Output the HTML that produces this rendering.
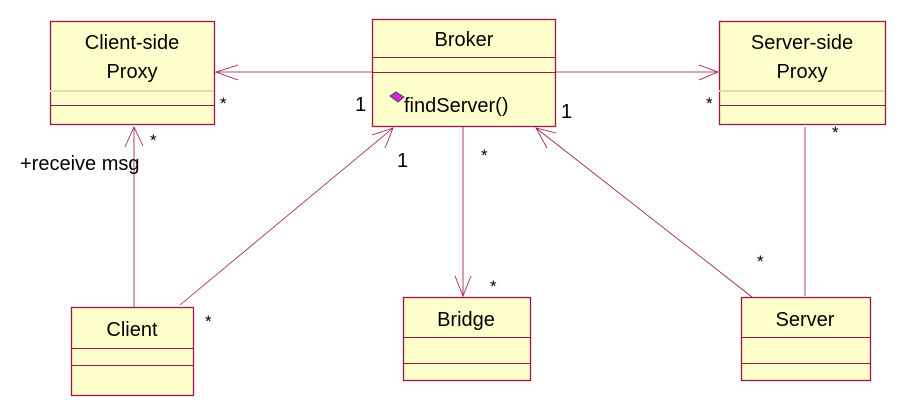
<!DOCTYPE html>
<html><head><meta charset="utf-8"><style>
html,body{margin:0;padding:0;background:#fff;}
svg{display:block;}
text{font-family:"Liberation Sans",sans-serif;fill:#000;}
</style></head><body>
<svg width="912" height="405" viewBox="0 0 912 405" xmlns="http://www.w3.org/2000/svg">
<g fill="#ffffcc" stroke="#99154a" stroke-width="1.3">
<rect x="50.5" y="21.5" width="164" height="103"/>
<rect x="372.5" y="19.5" width="183" height="107"/>
<rect x="719.5" y="21.5" width="166" height="103"/>
<rect x="71.5" y="307.5" width="122" height="88"/>
<rect x="403.5" y="297.5" width="127" height="83"/>
<rect x="741.5" y="297.5" width="129" height="83"/>
</g>
<g stroke="#99154a" stroke-width="1">
<line x1="50" y1="91" x2="214" y2="91" stroke="#e8d8b0" stroke-width="2"/>
<line x1="50" y1="105.5" x2="214" y2="105.5"/>
<line x1="372" y1="57.5" x2="555" y2="57.5"/>
<line x1="372" y1="72.5" x2="555" y2="72.5"/>
<line x1="719" y1="91" x2="885" y2="91" stroke="#e8d8b0" stroke-width="2"/>
<line x1="719" y1="105.5" x2="885" y2="105.5"/>
<line x1="71" y1="348.5" x2="193" y2="348.5"/>
<line x1="71" y1="365.5" x2="193" y2="365.5"/>
<line x1="403" y1="337.5" x2="530" y2="337.5"/>
<line x1="403" y1="363.5" x2="530" y2="363.5"/>
<line x1="741" y1="337.5" x2="870" y2="337.5"/>
<line x1="741" y1="363.5" x2="870" y2="363.5"/>
</g>
<g stroke="#99154a" stroke-width="0.8" fill="none">
<line x1="372" y1="72" x2="216" y2="72"/>
<polyline points="238,65 216,72 238,80"/>
<line x1="555" y1="72" x2="718" y2="72"/>
<polyline points="699,65 718,72 699,80"/>
<line x1="134" y1="307" x2="134" y2="127"/>
<polyline points="125,147 134,127 143,146"/>
<line x1="180" y1="305" x2="393" y2="128"/>
<polyline points="372,135 393,128 385,148"/>
<line x1="463" y1="127" x2="463" y2="296"/>
<polyline points="455,276 463,296 471,276"/>
<line x1="752" y1="297" x2="536" y2="128"/>
<polyline points="556,133 536,128 547,148"/>
<line x1="805" y1="127" x2="805" y2="296"/>
</g>
<g font-size="20" text-anchor="middle">
<text x="132" y="49">Client-side</text>
<text x="132" y="78">Proxy</text>
<text x="464" y="46">Broker</text>
<text x="802" y="49">Server-side</text>
<text x="802" y="78">Proxy</text>
<text x="132" y="336">Client</text>
<text x="466" y="326">Bridge</text>
<text x="805" y="326">Server</text>
</g>
<path d="M390 96 l6 -4 l8 5 l-6 5 z" fill="#e020e0" stroke="#206040" stroke-width="1"/>
<text x="404" y="112" font-size="20">findServer()</text>
<g font-size="20">
<text x="355" y="111">1</text>
<text x="561" y="118">1</text>
<text x="397" y="167">1</text>
<text x="20" y="170">+receive msg</text>
</g>
<g font-size="17">
<text x="220" y="109">*</text>
<text x="150" y="146">*</text>
<text x="706" y="109">*</text>
<text x="832" y="138">*</text>
<text x="481" y="161">*</text>
<text x="490" y="292">*</text>
<text x="205" y="327">*</text>
<text x="757" y="267">*</text>
</g>
</svg>
</body></html>
